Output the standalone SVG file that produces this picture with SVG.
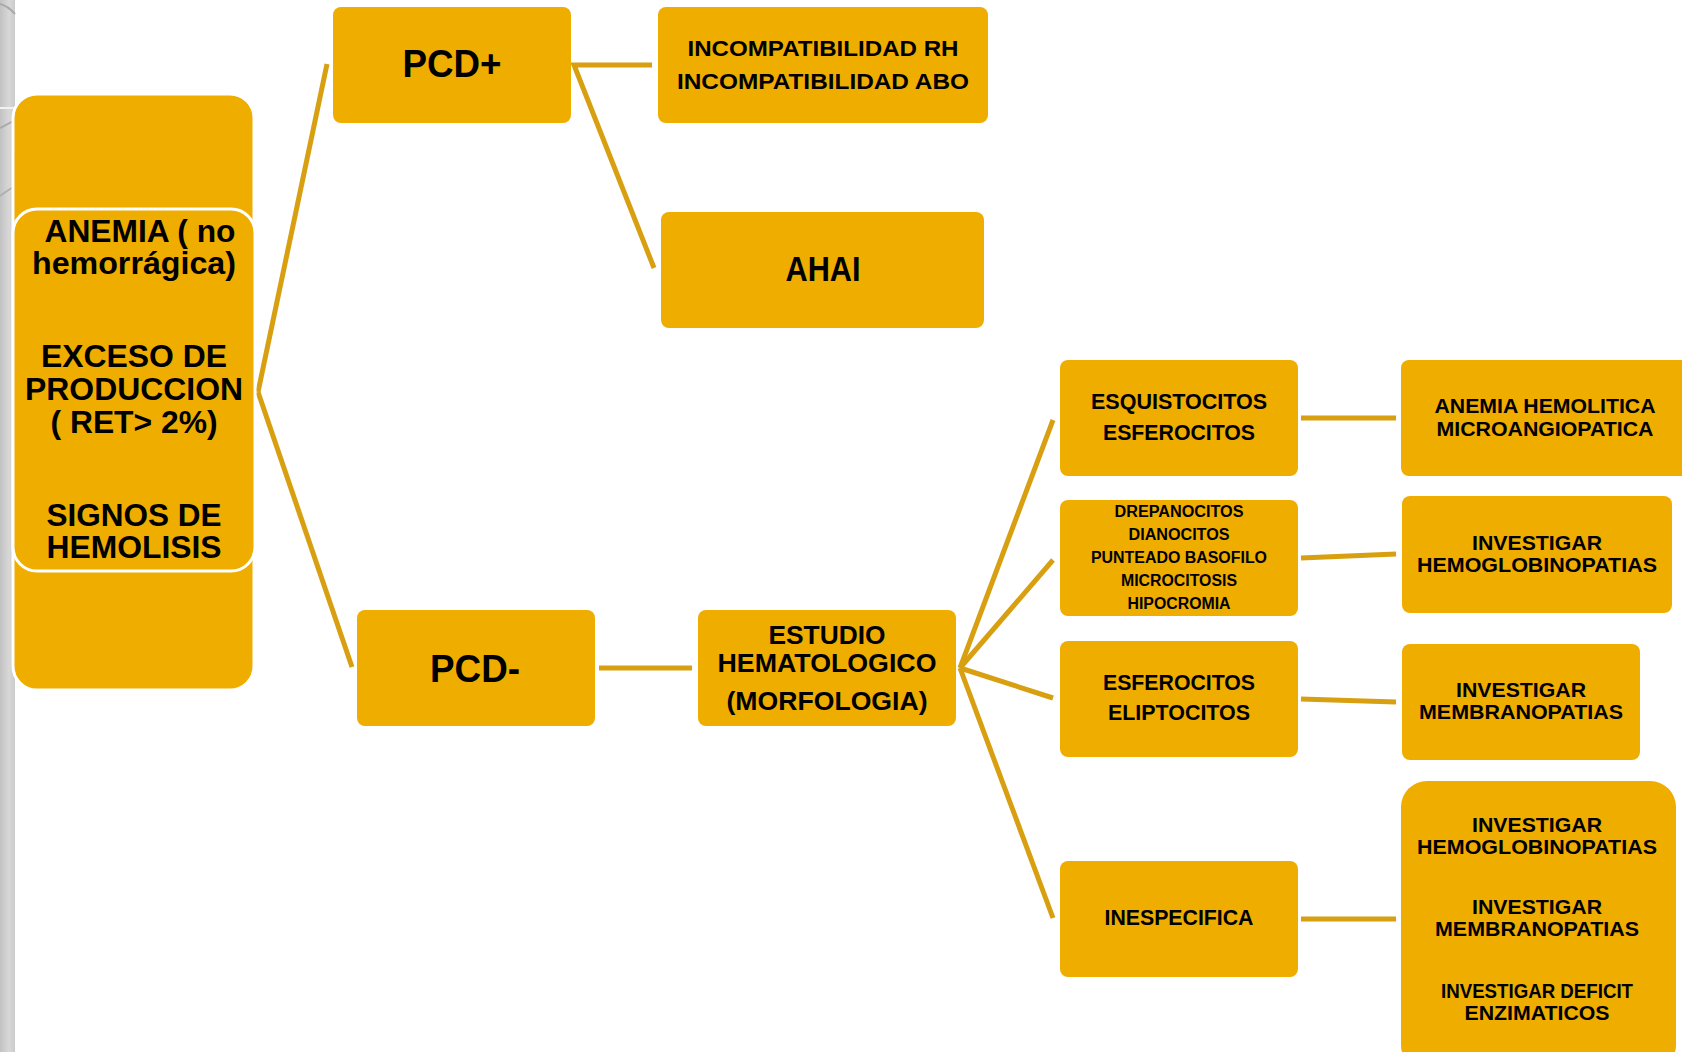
<svg xmlns="http://www.w3.org/2000/svg" width="1682" height="1052" viewBox="0 0 1682 1052">
<defs>
<linearGradient id="strip" x1="0" y1="0" x2="1" y2="0">
<stop offset="0" stop-color="#c2c2c2"/>
<stop offset="0.6" stop-color="#d8d8d8"/>
<stop offset="1" stop-color="#cbcbcb"/>
</linearGradient>
</defs>
<style>
.box{fill:#EFAD00;}
.bw{fill:#EFAD00;stroke:#ffffff;stroke-width:3;}
.t{font-family:"Liberation Sans",Arial,sans-serif;font-weight:bold;fill:#000;text-anchor:middle;}
.c{stroke:#D8A010;stroke-width:5;fill:none;stroke-linecap:butt;}
</style>
<rect x="0" y="0" width="1682" height="1052" fill="#ffffff"/>
<rect x="0" y="0" width="15" height="1052" fill="url(#strip)"/>
<path d="M0,4 Q8,6 15,14" stroke="#a9a9a9" stroke-width="2" fill="none"/>
<line x1="0" y1="108" x2="15" y2="108" stroke="#f2f2f2" stroke-width="2"/>
<path d="M0,128 Q8,124 15,120" stroke="#a9a9a9" stroke-width="2" fill="none"/>
<path d="M0,196 Q8,190 15,186" stroke="#b0b0b0" stroke-width="2" fill="none"/>

<g id="connectors">
<line class="c" x1="258" y1="392" x2="327" y2="64"/>
<line class="c" x1="258" y1="392" x2="352" y2="667"/>
<polyline class="c" points="652,65 574,65 654,268"/>
<line class="c" x1="599" y1="668" x2="692" y2="668"/>
<line class="c" x1="960" y1="668" x2="1053" y2="420"/>
<line class="c" x1="960" y1="668" x2="1053" y2="560"/>
<line class="c" x1="960" y1="668" x2="1053" y2="698"/>
<line class="c" x1="960" y1="668" x2="1053" y2="918"/>
<line class="c" x1="1301" y1="418" x2="1396" y2="418"/>
<line class="c" x1="1301" y1="558" x2="1396" y2="554"/>
<line class="c" x1="1301" y1="699" x2="1396" y2="702"/>
<line class="c" x1="1301" y1="919" x2="1396" y2="919"/>
</g>

<g id="node-root">
<rect class="bw" x="13" y="94" width="241" height="596" rx="24"/>
<rect class="bw" x="13" y="209" width="242" height="362" rx="24"/>
<text class="t" x="140" y="242" font-size="31" textLength="191" lengthAdjust="spacingAndGlyphs">ANEMIA ( no</text>
<text class="t" x="134" y="274" font-size="31" textLength="204" lengthAdjust="spacingAndGlyphs">hemorrágica)</text>
<text class="t" x="134" y="367" font-size="31" textLength="186" lengthAdjust="spacingAndGlyphs">EXCESO DE</text>
<text class="t" x="134" y="400" font-size="31" textLength="218" lengthAdjust="spacingAndGlyphs">PRODUCCION</text>
<text class="t" x="134" y="433" font-size="31" textLength="167" lengthAdjust="spacingAndGlyphs">( RET&gt; 2%)</text>
<text class="t" x="134" y="526" font-size="31" textLength="175" lengthAdjust="spacingAndGlyphs">SIGNOS DE</text>
<text class="t" x="134" y="558" font-size="31" textLength="175" lengthAdjust="spacingAndGlyphs">HEMOLISIS</text>
</g>

<g id="node-pcdplus">
<rect class="box" x="333" y="7" width="238" height="116" rx="8"/>
<text class="t" x="452" y="77" font-size="38" textLength="99" lengthAdjust="spacingAndGlyphs">PCD+</text>
</g>

<g id="node-incompat">
<rect class="box" x="658" y="7" width="330" height="116" rx="8"/>
<text class="t" x="823" y="56" font-size="22" textLength="271" lengthAdjust="spacingAndGlyphs">INCOMPATIBILIDAD RH</text>
<text class="t" x="823" y="89" font-size="22" textLength="292" lengthAdjust="spacingAndGlyphs">INCOMPATIBILIDAD ABO</text>
</g>

<g id="node-ahai">
<rect class="box" x="661" y="212" width="323" height="116" rx="8"/>
<text class="t" x="823" y="281" font-size="35" textLength="75" lengthAdjust="spacingAndGlyphs">AHAI</text>
</g>

<g id="node-pcdminus">
<rect class="box" x="357" y="610" width="238" height="116" rx="8"/>
<text class="t" x="475" y="682" font-size="38" textLength="90" lengthAdjust="spacingAndGlyphs">PCD-</text>
</g>

<g id="node-estudio">
<rect class="box" x="698" y="610" width="258" height="116" rx="8"/>
<text class="t" x="827" y="644" font-size="26" textLength="117" lengthAdjust="spacingAndGlyphs">ESTUDIO</text>
<text class="t" x="827" y="672" font-size="26" textLength="219" lengthAdjust="spacingAndGlyphs">HEMATOLOGICO</text>
<text class="t" x="827" y="710" font-size="26" textLength="201" lengthAdjust="spacingAndGlyphs">(MORFOLOGIA)</text>
</g>

<g id="node-esquisto">
<rect class="box" x="1060" y="360" width="238" height="116" rx="8"/>
<text class="t" x="1179" y="409" font-size="22" textLength="176" lengthAdjust="spacingAndGlyphs">ESQUISTOCITOS</text>
<text class="t" x="1179" y="440" font-size="22" textLength="152" lengthAdjust="spacingAndGlyphs">ESFEROCITOS</text>
</g>

<g id="node-drepano">
<rect class="box" x="1060" y="500" width="238" height="116" rx="8"/>
<text class="t" x="1179" y="517" font-size="16" textLength="129" lengthAdjust="spacingAndGlyphs">DREPANOCITOS</text>
<text class="t" x="1179" y="540" font-size="16" textLength="101" lengthAdjust="spacingAndGlyphs">DIANOCITOS</text>
<text class="t" x="1179" y="563" font-size="16" textLength="176" lengthAdjust="spacingAndGlyphs">PUNTEADO BASOFILO</text>
<text class="t" x="1179" y="586" font-size="16" textLength="116" lengthAdjust="spacingAndGlyphs">MICROCITOSIS</text>
<text class="t" x="1179" y="609" font-size="16" textLength="103" lengthAdjust="spacingAndGlyphs">HIPOCROMIA</text>
</g>

<g id="node-esfero">
<rect class="box" x="1060" y="641" width="238" height="116" rx="8"/>
<text class="t" x="1179" y="690" font-size="22" textLength="152" lengthAdjust="spacingAndGlyphs">ESFEROCITOS</text>
<text class="t" x="1179" y="720" font-size="22" textLength="142" lengthAdjust="spacingAndGlyphs">ELIPTOCITOS</text>
</g>

<g id="node-inespecifica">
<rect class="box" x="1060" y="861" width="238" height="116" rx="8"/>
<text class="t" x="1179" y="925" font-size="22" textLength="149" lengthAdjust="spacingAndGlyphs">INESPECIFICA</text>
</g>

<g id="node-anemia-micro">
<rect class="box" x="1401" y="360" width="300" height="116" rx="8"/>
<text class="t" x="1545" y="413" font-size="21" textLength="221" lengthAdjust="spacingAndGlyphs">ANEMIA HEMOLITICA</text>
<text class="t" x="1545" y="436" font-size="21" textLength="217" lengthAdjust="spacingAndGlyphs">MICROANGIOPATICA</text>
</g>

<g id="node-hemoglobino">
<rect class="box" x="1402" y="496" width="270" height="117" rx="8"/>
<text class="t" x="1537" y="550" font-size="21" textLength="130" lengthAdjust="spacingAndGlyphs">INVESTIGAR</text>
<text class="t" x="1537" y="572" font-size="21" textLength="240" lengthAdjust="spacingAndGlyphs">HEMOGLOBINOPATIAS</text>
</g>

<g id="node-membrano">
<rect class="box" x="1402" y="644" width="238" height="116" rx="8"/>
<text class="t" x="1521" y="697" font-size="21" textLength="130" lengthAdjust="spacingAndGlyphs">INVESTIGAR</text>
<text class="t" x="1521" y="719" font-size="21" textLength="204" lengthAdjust="spacingAndGlyphs">MEMBRANOPATIAS</text>
</g>

<g id="node-investigar-multi">
<rect class="box" x="1401" y="781" width="275" height="290" rx="26"/>
<text class="t" x="1537" y="832" font-size="21" textLength="130" lengthAdjust="spacingAndGlyphs">INVESTIGAR</text>
<text class="t" x="1537" y="854" font-size="21" textLength="240" lengthAdjust="spacingAndGlyphs">HEMOGLOBINOPATIAS</text>
<text class="t" x="1537" y="914" font-size="21" textLength="130" lengthAdjust="spacingAndGlyphs">INVESTIGAR</text>
<text class="t" x="1537" y="936" font-size="21" textLength="204" lengthAdjust="spacingAndGlyphs">MEMBRANOPATIAS</text>
<text class="t" x="1537" y="998" font-size="21" textLength="192" lengthAdjust="spacingAndGlyphs">INVESTIGAR DEFICIT</text>
<text class="t" x="1537" y="1020" font-size="21" textLength="145" lengthAdjust="spacingAndGlyphs">ENZIMATICOS</text>
</g>
</svg>
